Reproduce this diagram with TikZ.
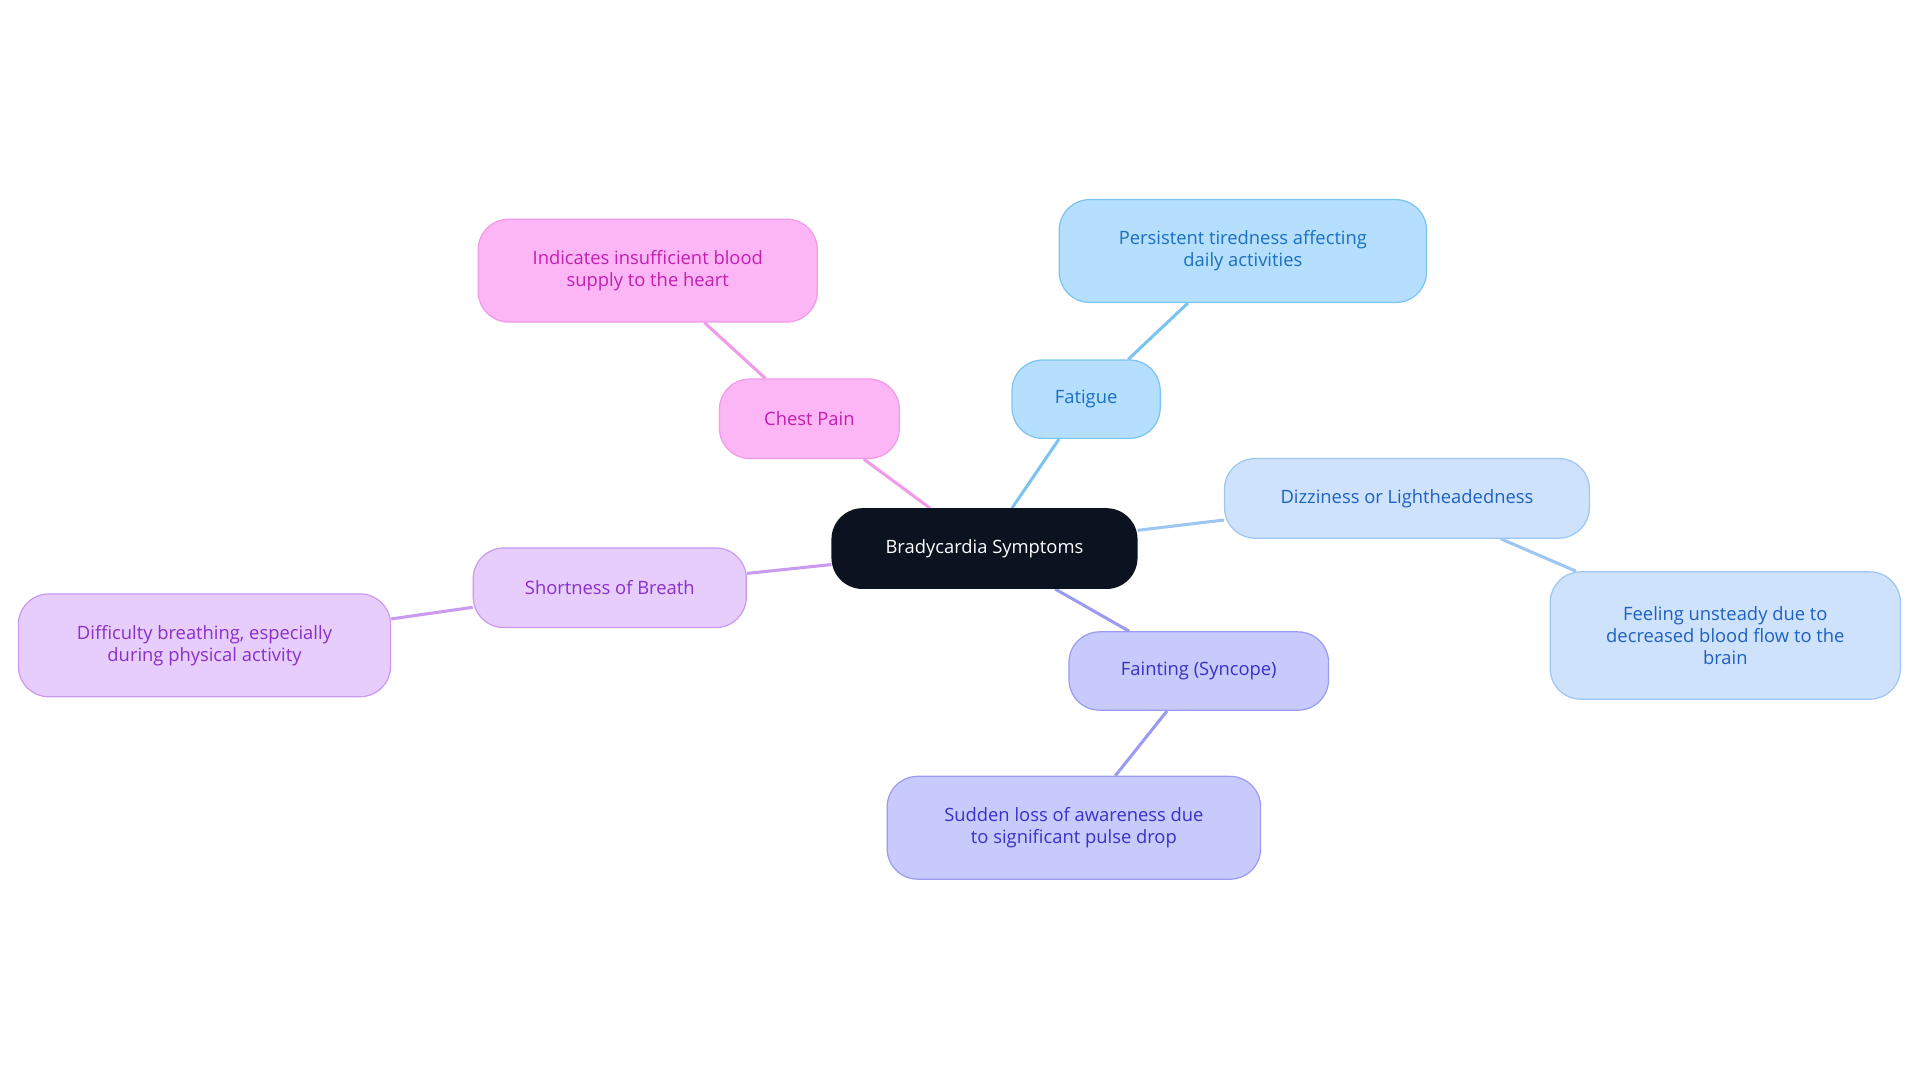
\documentclass[tikz,border=0pt]{standalone}
\usepackage{fontspec}
\setmainfont{Open Sans}
\usetikzlibrary{backgrounds}
\definecolor{cdark}{HTML}{0B1220}
\definecolor{fbF}{HTML}{B5DFFC}\definecolor{dbF}{HTML}{7CC4F0}\definecolor{tF}{HTML}{1A6FC0}
\definecolor{fbC}{HTML}{FDB6F5}\definecolor{dbC}{HTML}{F09AE8}\definecolor{tC}{HTML}{C21FB0}
\definecolor{fbD}{HTML}{CEE3FB}\definecolor{dbD}{HTML}{9EC6F2}\definecolor{tD}{HTML}{1E60C0}
\definecolor{fbS}{HTML}{C9CAFC}\definecolor{dbS}{HTML}{9B9CF0}\definecolor{tS}{HTML}{3A2FC8}
\definecolor{fbB}{HTML}{E7CDFB}\definecolor{dbB}{HTML}{C99AF0}\definecolor{tB}{HTML}{8A2FC8}
\tikzset{
 box/.style={rounded corners=25pt, draw, line width=1pt, align=center, inner sep=0pt, font=\fontsize{15}{18}\selectfont},
 br/.style n args={3}{box, fill=#1, draw=#2, text=#3},
 ln/.style={line width=2.5pt}
}
\begin{document}
\begin{tikzpicture}[x=1pt,y=-1pt]
\useasboundingbox (0,0) rectangle (1568,884);
\node[box, fill=cdark, draw=cdark, text=white, minimum width=249pt, minimum height=65pt] (c) at (804,448) {Bradycardia Symptoms};
\node[br={fbF}{dbF}{tF}, minimum width=121pt, minimum height=64pt] (f) at (887,326) {Fatigue};
\node[br={fbF}{dbF}{tF}, minimum width=300pt, minimum height=84pt] (f2) at (1015,205) {Persistent tiredness affecting\\daily activities};
\node[br={fbC}{dbC}{tC}, minimum width=147pt, minimum height=65pt] (p) at (661,342) {Chest Pain};
\node[br={fbC}{dbC}{tC}, minimum width=277pt, minimum height=84pt] (p2) at (529,221) {Indicates insufficient blood\\supply to the heart};
\node[br={fbD}{dbD}{tD}, minimum width=298pt, minimum height=65pt] (d) at (1149,407) {Dizziness or Lightheadedness};
\node[br={fbD}{dbD}{tD}, minimum width=286pt, minimum height=104pt] (d2) at (1409,519) {Feeling unsteady due to\\decreased blood flow to the\\brain};
\node[br={fbS}{dbS}{tS}, minimum width=212pt, minimum height=64pt] (s) at (979,548) {Fainting (Syncope)};
\node[br={fbS}{dbS}{tS}, minimum width=305pt, minimum height=84pt] (s2) at (877,676) {Sudden loss of awareness due\\to significant pulse drop};
\node[br={fbB}{dbB}{tB}, minimum width=223pt, minimum height=65pt] (b) at (498,480) {Shortness of Breath};
\node[br={fbB}{dbB}{tB}, minimum width=304pt, minimum height=84pt] (b2) at (167,527) {Difficulty breathing, especially\\during physical activity};
\begin{scope}[on background layer]
\draw[ln, dbF] (c) -- (f) -- (f2);
\draw[ln, dbC] (c) -- (p) -- (p2);
\draw[ln, dbD] (c) -- (d) -- (d2);
\draw[ln, dbS] (c) -- (s) -- (s2);
\draw[ln, dbB] (c) -- (b) -- (b2);
\end{scope}
\end{tikzpicture}
\end{document}
